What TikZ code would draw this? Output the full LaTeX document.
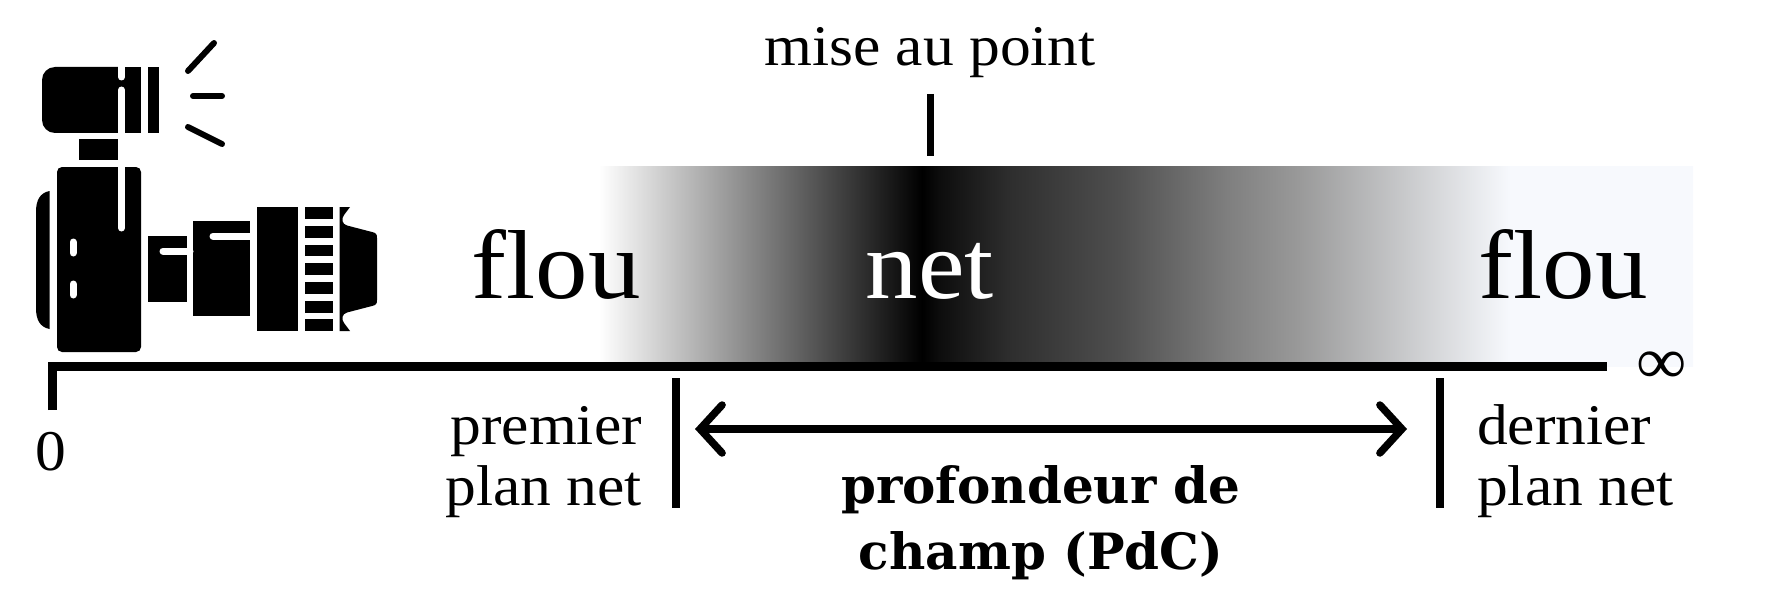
\documentclass[tikz,border=0pt]{standalone}
\usepackage{xcolor}
\usepackage{fontspec}
\setmainfont[FakeStretch=1.07]{Liberation Serif}
\newfontfamily\heavyfont{DejaVu Serif}
\usetikzlibrary{arrows.meta}
\definecolor{farblur}{HTML}{F7F9FD}
\pgfdeclarehorizontalshading{focusblur}{100bp}{color(0bp)=(white); color(25bp)=(white);
  color(39.77bp)=(black); color(40.54bp)=(black!95); color(43.78bp)=(black!82);
  color(48.79bp)=(black!69); color(53.8bp)=(black!50); color(56.95bp)=(black!40);
  color(66.66bp)=(farblur); color(100bp)=(farblur)}
\tikzset{
  axisline/.style={line width=9pt},
  markline/.style={line width=7.5pt},
  spanline/.style={line width=7.5pt,{Straight Barb[length=22pt,width=48pt,line cap=round]}-{Straight Barb[length=22pt,width=48pt,line cap=round]}},
  raystroke/.style={line width=6pt,line cap=round},
  slot/.style={white,line width=7pt,line cap=round},
  biglabel/.style={inner sep=0pt,anchor=base,font=\fontsize{98}{110}\selectfont},
  smalllabel/.style={inner sep=0pt,font=\fontsize{57.5}{61}\selectfont},
  boldlabel/.style={inner sep=0pt,anchor=base,align=center,font=\heavyfont\bfseries\fontsize{50}{66}\selectfont},
}
\newcommand{\flashunit}{%
  \fill (118,67) [rounded corners=13pt] -- (42,67) -- (42,133) [sharp corners] -- (118,133) -- cycle;
  \fill (118,67) rectangle (141,133);
  \fill (148,67) rectangle (159,133);
  \fill (79,139) rectangle (118,160);
  \draw[slot] (121.5,60) -- (121.5,77);
  \draw[slot] (121.5,90) -- (121.5,140);
  \draw[raystroke] (188,71) -- (214,43);
  \draw[raystroke] (193,96) -- (222,96);
  \draw[raystroke] (188,127) -- (222,144);
}
\newcommand{\camerabody}{%
  \fill[rounded corners=5pt] (57,167) rectangle (141,352);
  \fill (49.5,191) .. controls (40,193) and (36,200) .. (36,212) -- (36,308)
    .. controls (36,320) and (40,327) .. (49.5,329) -- cycle;
  \fill[white] (118,160) rectangle (125,167);
  \draw[slot] (121.5,160) -- (121.5,228);
  \draw[slot] (73,242) -- (73,253);
  \draw[slot] (73,284) -- (73,295);
}
\newcommand{\cameralens}{%
  \fill (148,236) rectangle (187,302);
  \fill (193,221) rectangle (250,316);
  \fill (257,207) rectangle (298,331);
  \draw[slot] (163,251) -- (190,251);
  \draw[slot] (213,236) -- (253,236);
  \fill[white] (250,221) rectangle (257,316);
  \fill[white] (187,236) rectangle (193,302);
  \foreach \ribtop in {207,225.8,244.6,263.4,282.2,301,319.3}
    \fill (305,\ribtop) rectangle (333,\ribtop+11.7);
  \fill (339.5,207) -- (350,207) -- (344,215) .. controls (341,219) and (342,224) .. (347,225.5)
    -- (372,232) .. controls (376,233) and (377,234) .. (377,238) -- (377,300)
    .. controls (377,304) and (376,305) .. (372,306) -- (347,312.5)
    .. controls (342,314) and (341,319) .. (344,323) -- (350,331) -- (339.5,331) -- cycle;
}

\begin{document}
\begin{tikzpicture}[x=1pt,y=-1pt]
\useasboundingbox (0,0) rectangle (1772,615);
\shade[shading=focusblur] (599,166) rectangle (1693,366);
\flashunit \camerabody \cameralens
% axis
\coordinate (origintick) at (52.5,410);
\coordinate (origin) at (52.5,366.5);
\coordinate (axisend) at (1607,366.5);
\draw[axisline,line join=miter] (origintick) -- (origin) -- (axisend);
\node[inner sep=0pt,anchor=base,font=\fontsize{57.5}{61}\selectfont] (zero) at (51,470) {0};
\node[inner sep=0pt,font=\fontsize{66}{66}\selectfont] (infinity) at (1662,368) {∞};
% focus mark
\node[smalllabel,anchor=base] (focuslabel) at (930,66) {mise au point};
\coordinate (focustop) at (930,94);
\coordinate (focusbottom) at (930,156);
\draw[line width=7pt] (focustop) -- (focusbottom);
\node[biglabel] (nearblur) at (556,298) {flou};
\node[biglabel,white] (sharp) at (930,298) {net};
\node[biglabel] (farblurlabel) at (1563,298) {flou};
% depth of field
\coordinate (neartop) at (676,378);
\coordinate (nearbottom) at (676,508);
\coordinate (fartop) at (1440,378);
\coordinate (farbottom) at (1440,508);
\draw[markline] (neartop) -- (nearbottom);
\draw[markline] (fartop) -- (farbottom);
\coordinate (spanleft) at (695,429);
\coordinate (spanright) at (1407,429);
\draw[spanline] (spanleft) -- (spanright);
\node[smalllabel,anchor=base east,align=right] (nearlabel) at (642,505) {premier\\plan net};
\node[smalllabel,anchor=base west,align=left] (farlabel) at (1477,505) {dernier\\plan net};
\node[boldlabel] (dof) at (1041,569) {profondeur de\\champ (PdC)};
\end{tikzpicture}
\end{document}
